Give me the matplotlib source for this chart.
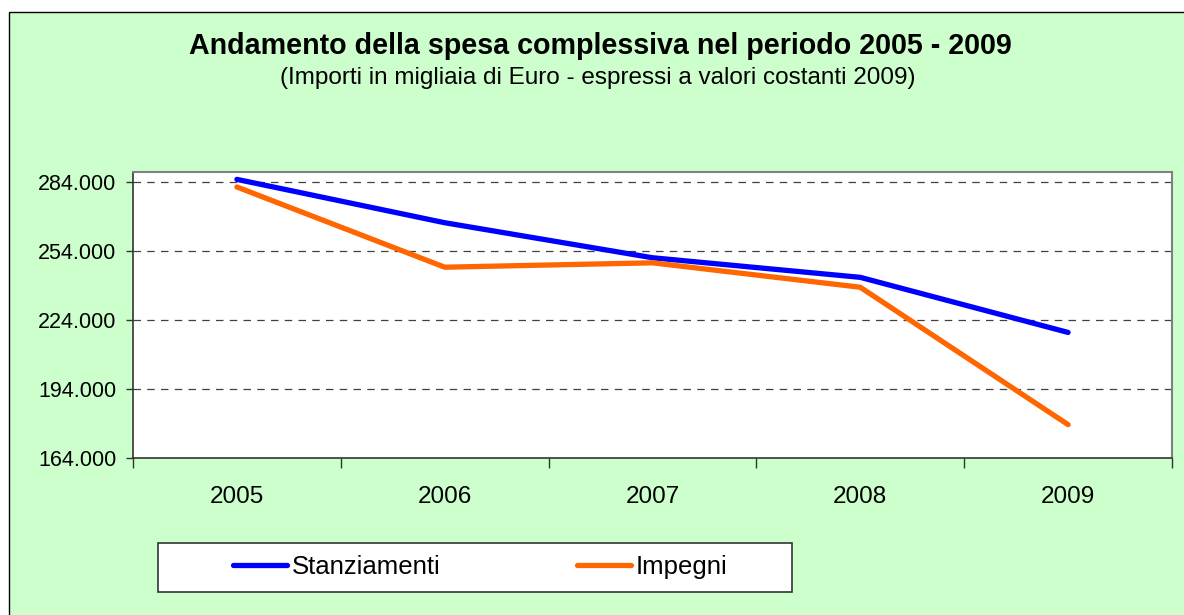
import matplotlib
matplotlib.use("Agg")
import matplotlib.pyplot as plt
from matplotlib.patches import Rectangle
from matplotlib.ticker import FixedLocator, FuncFormatter

years = ["2005", "2006", "2007", "2008", "2009"]
stanziamenti = [285000, 266200, 251000, 242500, 218600]
impegni = [281700, 246900, 248800, 238200, 178600]
yticks = [164000, 194000, 224000, 254000, 284000]

plt.rcParams['font.family'] = ['Liberation Sans', 'DejaVu Sans']

W, H = 1184, 615
fig = plt.figure(figsize=(W / 100, H / 100), dpi=100, facecolor='white')

# outer chart area
fig.patches.append(Rectangle((9 / W, -0.05), 1.1, 1 - 12 / H + 0.05, transform=fig.transFigure,
                             facecolor='#CCFFCC', edgecolor='#000000', linewidth=1.0, zorder=-5))

ax = fig.add_axes([133 / W, 1 - 458.3 / H, (1172 - 133) / W, (458.3 - 172) / H])
ax.set_zorder(1)
ax.set_facecolor('white')

x = list(range(len(years)))
l1, = ax.plot(x, stanziamenti, color='#0000FF', linewidth=3.8, solid_capstyle='round',
              solid_joinstyle='round', label='Stanziamenti', zorder=3)
l2, = ax.plot(x, impegni, color='#FF6600', linewidth=3.8, solid_capstyle='round',
              solid_joinstyle='round', label='Impegni', zorder=3)

ax.set_xlim(-0.5, len(years) - 0.5)
ax.set_ylim(164000, 288200)

ax.yaxis.set_major_locator(FixedLocator(yticks))
ax.yaxis.set_major_formatter(FuncFormatter(lambda v, p: f"{v:,.0f}".replace(',', '.')))
ax.tick_params(axis='y', which='major', direction='out', length=5, width=1, colors='#333333',
               labelcolor='black', labelsize=15.5, pad=7)

ax.xaxis.set_major_locator(FixedLocator([i - 0.5 for i in range(len(years) + 1)]))
ax.xaxis.set_major_formatter(FuncFormatter(lambda v, p: ''))
ax.xaxis.set_minor_locator(FixedLocator(x))
ax.set_xticklabels(years, minor=True)
ax.tick_params(axis='x', which='major', direction='out', length=7, width=1, colors='#333333')
ax.tick_params(axis='x', which='minor', length=0, labelsize=17.5, pad=20, labelcolor='black')

for yv in yticks[1:]:
    ax.axhline(yv, color='#404040', linestyle=(0, (6, 5)), linewidth=0.9, zorder=1)

for s in ['left', 'bottom']:
    ax.spines[s].set_color('#333333')
    ax.spines[s].set_linewidth(1.2)
for s in ['top', 'right']:
    ax.spines[s].set_color('#808080')
    ax.spines[s].set_linewidth(1.5)

fig.text(600 / W, 1 - 46 / H, 'Andamento della spesa complessiva nel periodo 2005 - 2009',
         ha='center', va='center', fontsize=20.6, fontweight='bold')
fig.text(598 / W, 1 - 78 / H, '(Importi in migliaia di Euro - espressi a valori costanti 2009)',
         ha='center', va='center', fontsize=17.5)

# legend box
fig.patches.append(Rectangle((158 / W, 1 - 592 / H), (792 - 158) / W, 49 / H,
                             transform=fig.transFigure, facecolor='white',
                             edgecolor='#333333', linewidth=1.2, zorder=2))
leg = fig.legend(handles=[l1, l2], loc='center', bbox_to_anchor=(480 / W, 1 - 567 / H),
                 ncol=2, frameon=False, fontsize=18.5, handlelength=2.1, handletextpad=0.2,
                 columnspacing=5.3)
leg.set_zorder(5)

fig.savefig('out.png', dpi=100, facecolor='white')
